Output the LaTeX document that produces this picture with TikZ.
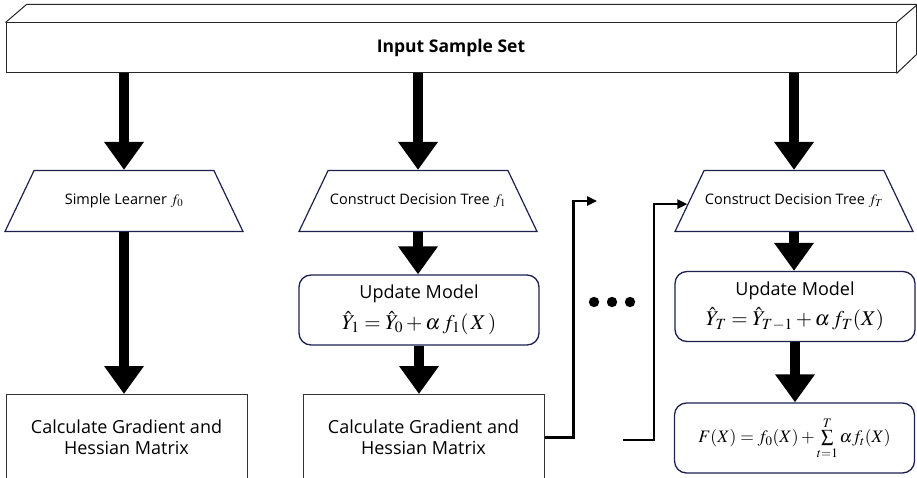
\documentclass[tikz,border=0pt]{standalone}
\usepackage{amsmath}
\usepackage{mathptmx}
\usepackage{fontspec}
\setmainfont{Open Sans}
\usetikzlibrary{shapes.geometric, arrows.meta, positioning, calc}

\definecolor{navy}{RGB}{28,32,78}
\newcommand{\bigmath}{\fontsize{21}{23}\selectfont}

\begin{document}
\begin{tikzpicture}[x=1pt, y=-1pt,
    inputbox/.style={rectangle, draw=black!85, line width=1pt, minimum width=890pt, minimum height=50pt, font=\fontsize{17.5}{20}\selectfont\bfseries},
    learner/.style={trapezium, trapezium stretches body=true, trapezium left angle=64.5, trapezium right angle=64.5, draw=navy, line width=1.2pt, minimum width=238pt, text height=11pt, text depth=4pt, inner xsep=0pt, inner ysep=23pt, font=\fontsize{14.5}{17}\selectfont},
    update/.style={rectangle, rounded corners=12pt, draw=navy, line width=1.3pt, minimum width=240pt, minimum height=70pt, align=center, inner sep=2pt, font=\fontsize{18}{20}\selectfont},
    calcbox/.style={rectangle, draw=black!80, line width=1pt, minimum width=241pt, minimum height=86pt, align=center, font=\fontsize{18}{21}\selectfont},
    bigarrow/.style={-{Triangle[length=28pt,width=38pt]}, line width=10pt},
    link/.style={-{Triangle[length=10pt,width=9pt]}, line width=2.4pt},
]
\useasboundingbox (0,0) rectangle (917,478);
\clip (0,0) rectangle (917,478);

% input set (drawn as a flat bar)
\node[inputbox] (input) at (451,48) {Input Sample Set};
\draw[black!85, line width=1pt] (input.north west) -- ++(21,-18) -- ++(890,0) -- ++(0,50) -- (input.south east);
\draw[black!85, line width=1pt] (input.north east) -- ++(21,-18);

% learners
\node[learner] (learner0) at (124,201) {Simple Learner $f_0$};
\node[learner] (learner1) at (418,201) {Construct Decision Tree $f_1$};
\node[learner] (learnerT) at (794,201) {Construct Decision Tree $f_T$};

% model updates
\node[update] (update1) at (419,310) {Update Model\\[7pt] {\bigmath $\hat{Y}_1 = \hat{Y}_0 + \alpha\, f_1(\,X\,)$}};
\node[update] (updateT) at (795,306.5) {Update Model\\[7pt] {\bigmath $\hat{Y}_T = \hat{Y}_{T-1} + \alpha\, f_T(X)$}};

% gradients
\node[calcbox] (calc0) at (126.5,437.5) {Calculate Gradient and\\Hessian Matrix};
\node[calcbox] (calc1) at (423.5,437.5) {Calculate Gradient and\\Hessian Matrix};
\node[update, font=\fontsize{17.5}{19}\selectfont] (final) at (794.5,438) {$F(X) = f_0(X) + \sum\limits_{t=1}^{T} \alpha f_t(X)$};

% skipped rounds
\coordinate (gapout) at (597,201);
\coordinate (gapin) at (623,440);
\coordinate (entryT) at ($(learnerT.bottom left corner)!0.45!(learnerT.top left corner)$);
\foreach \dx in {594,612,630}
    \fill (\dx,302) circle (5.2pt);

\draw[bigarrow] (learner0.north |- input.south) -- (learner0.north);
\draw[bigarrow] (learner1.north |- input.south) -- (learner1.north);
\draw[bigarrow] (learnerT.north |- input.south) -- (learnerT.north);
\draw[bigarrow] (learner0.south) -- (learner0.south |- calc0.north);
\draw[bigarrow] (learner1.south) -- (update1.north -| learner1.south);
\draw[bigarrow] (update1.south) -- (update1.south |- calc1.north);
\draw[bigarrow] (learnerT.south) -- (updateT.north -| learnerT.south);
\draw[bigarrow] (updateT.south) -- (updateT.south |- final.north);

\draw[link] (calc1.east) -- ++(29,0) |- (gapout);
\draw[link] (gapin) -- ++(31,0) |- (entryT);
\end{tikzpicture}
\end{document}
